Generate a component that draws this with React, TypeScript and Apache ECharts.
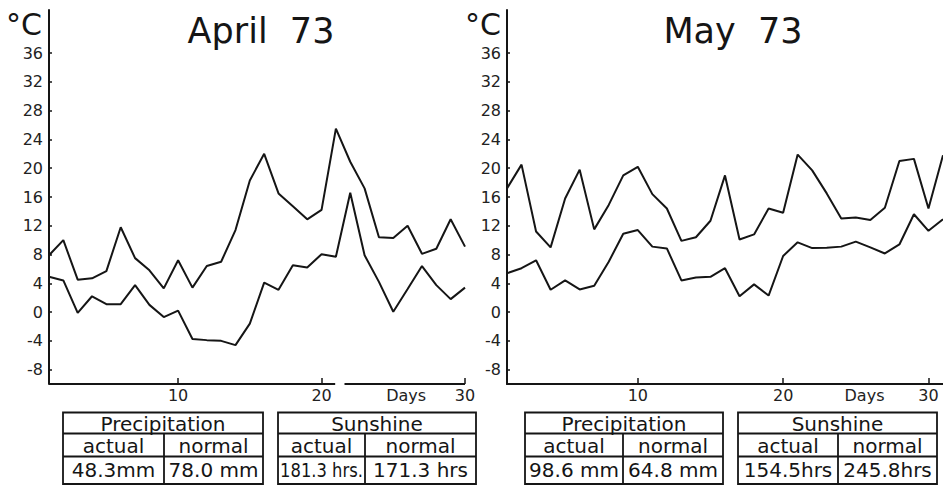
import React, { useEffect, useRef } from "react";
import * as echarts from "echarts";

// Daily temperatures, °C (upper line = maximum, lower line = minimum)
const aprilMax = [7.9, 10.0, 4.5, 4.7, 5.7, 11.8, 7.5, 5.8, 3.3, 7.2, 3.4, 6.4, 7.0, 11.4, 18.3, 22.0, 16.5, 14.7, 12.9, 14.2, 25.5, 20.9, 17.2, 10.4, 10.3, 12.0, 8.1, 8.8, 12.9, 9.1];
const aprilMin = [4.9, 4.4, -0.1, 2.2, 1.1, 1.1, 3.75, 1.0, -0.7, 0.2, -3.75, -3.9, -4.0, -4.6, -1.6, 4.1, 3.1, 6.5, 6.2, 8.05, 7.7, 16.6, 7.9, 4.2, 0.05, 3.2, 6.4, 3.75, 1.8, 3.4];
const mayMax = [17.2, 20.5, 11.2, 9.0, 15.8, 19.8, 11.5, 14.9, 19.0, 20.2, 16.4, 14.4, 9.9, 10.4, 12.7, 19.0, 10.1, 10.8, 14.4, 13.8, 21.9, 19.7, 16.5, 13.0, 13.15, 12.8, 14.5, 21.0, 21.3, 14.4, 21.8];
const mayMin = [5.4, 6.1, 7.2, 3.1, 4.4, 3.15, 3.65, 7.0, 10.9, 11.4, 9.1, 8.85, 4.4, 4.8, 4.9, 6.1, 2.2, 3.85, 2.3, 7.8, 9.7, 8.9, 8.95, 9.1, 9.8, 9.0, 8.15, 9.4, 13.6, 11.3, 12.9];

// Axis ticks and labels
const tempTicks = [-8, -4, 0, 4, 8, 12, 16, 20, 24, 28, 32, 36];
const dayTicks = [10, 20, 30];
const titles = ["April  73", "May  73"];
const unitLabel = "°C";
const daysLabel = "Days";

// Monthly summary tables
const precipHeader = "Precipitation";
const sunHeader = "Sunshine";
const columnHeads = ["actual", "normal"];
const aprilPrecip = ["48.3mm", "78.0 mm"];
const aprilSun = ["181.3 hrs.", "171.3 hrs"];
const mayPrecip = ["98.6 mm", "64.8 mm"];
const maySun = ["154.5hrs", "245.8hrs"];

const INK = "#151515";
const FONT = "DejaVu Sans";
const TABLE_FONT_SIZE = 20;

const toPoints = (vals: number[]) => vals.map((v, i) => [i + 1, v]);

// Horizontal squeeze so that a string fits inside its table cell
const measureCtx = typeof document !== "undefined" ? document.createElement("canvas").getContext("2d") : null;
function fitScale(t: string, room: number, size: number) {
  if (!measureCtx) return 1;
  measureCtx.font = `${size}px "${FONT}"`;
  const w = measureCtx.measureText(t).width;
  return w > room ? room / w : 1;
}

function table(x: number, x2: number, split: number, header: string, values: string[]) {
  const top = 412.5;
  const r1 = 433.5;
  const r2 = 456.5;
  const bottom = 484;
  const line = (x1: number, y1: number, xx: number, y2: number) => ({
    type: "line",
    shape: { x1, y1, x2: xx, y2 },
    style: { stroke: INK, lineWidth: 1.8 },
    silent: true,
  });
  const text = (t: string, cx: number, cy: number, room: number) => ({
    type: "text",
    x: cx,
    y: cy,
    scaleX: fitScale(t, room, TABLE_FONT_SIZE),
    style: {
      text: t,
      fontFamily: FONT,
      fontSize: TABLE_FONT_SIZE,
      fill: INK,
      align: "center",
      verticalAlign: "middle",
    },
    silent: true,
  });
  const c1 = (x + split) / 2;
  const c2 = (split + x2) / 2;
  const w1 = split - x - 4;
  const w2 = x2 - split - 4;
  return [
    {
      type: "rect",
      shape: { x, y: top, width: x2 - x, height: bottom - top },
      style: { fill: "none", stroke: INK, lineWidth: 1.8 },
      silent: true,
    },
    line(x, r1, x2, r1),
    line(x, r2, x2, r2),
    line(split, r1, split, bottom),
    text(header, (x + x2) / 2, 424, x2 - x - 6),
    text(columnHeads[0], c1, 446, w1),
    text(columnHeads[1], c2, 446, w2),
    text(values[0], c1, 470, w1),
    text(values[1], c2, 470, w2),
  ];
}

export default function App() {
  const ref = useRef<HTMLDivElement>(null);

  useEffect(() => {
    if (!ref.current) return;
    const chart = echarts.init(ref.current, undefined, { renderer: "svg" });

    const yAxisBase = (gridIndex: number) => ({
      type: "value",
      gridIndex,
      min: -10,
      max: 42,
      axisLine: { show: true, lineStyle: { color: INK, width: 2 } },
      axisTick: {
        show: true,
        inside: true,
        length: 3,
        customValues: tempTicks,
        lineStyle: { color: INK, width: 1.5 },
      },
      axisLabel: {
        customValues: tempTicks,
        fontFamily: FONT,
        fontSize: 16,
        color: "#222",
        margin: 6,
      },
      splitLine: { show: false },
    });

    const xAxisBase = (gridIndex: number, max: number, daysAt: number, showLine: boolean) => ({
      type: "value",
      gridIndex,
      min: 1,
      max,
      axisLine: { show: showLine, onZero: false, lineStyle: { color: INK, width: 2 } },
      axisTick: {
        show: true,
        inside: true,
        length: 6,
        customValues: dayTicks,
        lineStyle: { color: INK, width: 1.5 },
      },
      axisLabel: {
        customValues: [...dayTicks, daysAt],
        formatter: (v: number) => (v === daysAt ? daysLabel : String(v)),
        fontFamily: FONT,
        fontSize: 16,
        color: "#222",
        margin: 3,
      },
      splitLine: { show: false },
    });

    const lineSeries = (data: number[], idx: number, extra: any = {}) => ({
      type: "line",
      xAxisIndex: idx,
      yAxisIndex: idx,
      data: toPoints(data),
      showSymbol: false,
      symbol: "none",
      lineStyle: { color: INK, width: 2 },
      silent: true,
      ...extra,
    });

    const unitText = (x: number) => ({
      type: "text",
      x,
      y: 24,
      style: { text: unitLabel, fontFamily: FONT, fontSize: 30, fill: INK, verticalAlign: "middle" },
      silent: true,
    });

    chart.setOption({
      animation: false,
      backgroundColor: "#ffffff",
      title: [
        {
          text: titles[0],
          left: 256,
          top: 8,
          textAlign: "center",
          textStyle: { fontFamily: FONT, fontSize: 35, fontWeight: "normal", color: INK },
        },
        {
          text: titles[1],
          left: 728,
          top: 8,
          textAlign: "center",
          textStyle: { fontFamily: FONT, fontSize: 35, fontWeight: "normal", color: INK },
        },
      ],
      grid: [
        { left: 49, top: 10, width: 416, height: 374 },
        { left: 507, top: 10, width: 436, height: 374 },
      ],
      xAxis: [xAxisBase(0, 30, 25.9, false), xAxisBase(1, 31, 25.6, true)],
      yAxis: [yAxisBase(0), yAxisBase(1)],
      series: [
        lineSeries(aprilMax, 0, {
          markLine: {
            silent: true,
            symbol: ["none", "none"],
            label: { show: false },
            lineStyle: { color: INK, width: 2, type: "solid" },
            data: [
              [{ coord: [1, -10] }, { coord: [20.95, -10] }],
              [{ coord: [21.6, -10] }, { coord: [30, -10] }],
            ],
          },
        }),
        lineSeries(aprilMin, 0),
        lineSeries(mayMax, 1),
        lineSeries(mayMin, 1),
      ],
      graphic: [
        unitText(6),
        unitText(465),
        ...table(63, 263, 164, precipHeader, aprilPrecip),
        ...table(278, 476, 365, sunHeader, aprilSun),
        ...table(525, 723, 623, precipHeader, mayPrecip),
        ...table(738, 937, 838, sunHeader, maySun),
      ],
    });

    return () => chart.dispose();
  }, []);

  return (
    <div
      ref={ref}
      style={{ position: "fixed", left: 0, top: 0, width: 943, height: 488, background: "#fff" }}
    />
  );
}
